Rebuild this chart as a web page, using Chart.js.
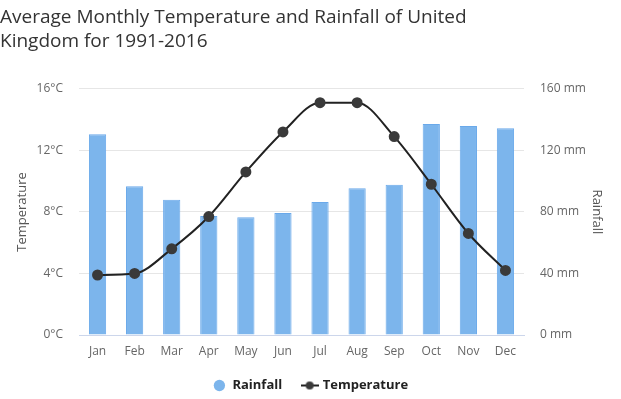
<!DOCTYPE html>
<html>
<head>
<meta charset="utf-8">
<script src="https://cdn.jsdelivr.net/npm/chart.js@4"></script>
<style>
  html, body { margin: 0; padding: 0; background: #fff; }
  #wrap { width: 621px; height: 399px; }
</style>
</head>
<body>
<div id="wrap"><canvas id="climateChart"></canvas></div>
<script>
// data
const months = ['Jan', 'Feb', 'Mar', 'Apr', 'May', 'Jun', 'Jul', 'Aug', 'Sep', 'Oct', 'Nov', 'Dec'];
const rainfall = [130.5, 96.7, 88.0, 77.4, 76.5, 79.3, 86.5, 95.4, 97.6, 137.2, 135.9, 134.4];
const temperature = [3.9, 4.0, 5.6, 7.7, 10.6, 13.2, 15.1, 15.1, 12.9, 9.8, 6.6, 4.2];
const tempTicks = [0, 4, 8, 12, 16];
const rainTicks = [0, 40, 80, 120, 160];

Chart.defaults.font.family = '"Open Sans", sans-serif';
Chart.defaults.color = '#666';

// legend marker: line with a dot
function lineDotMarker() {
    const c = document.createElement('canvas');
    c.width = 18; c.height = 10;
    const g = c.getContext('2d');
    g.strokeStyle = '#222';
    g.lineWidth = 2;
    g.beginPath(); g.moveTo(0, 5); g.lineTo(18, 5); g.stroke();
    g.fillStyle = '#3a3a3a';
    g.beginPath(); g.arc(9, 5, 4, 0, Math.PI * 2); g.fill();
    return c;
}
const tempMarker = lineDotMarker();

new Chart(document.getElementById('climateChart'), {
    data: {
        labels: months,
        datasets: [
            {
                type: 'line',
                label: 'Temperature',
                data: temperature,
                yAxisID: 'yTemp',
                borderColor: '#222',
                borderWidth: 2,
                pointRadius: 4.5,
                pointBackgroundColor: '#3a3a3a',
                pointBorderColor: '#3a3a3a',
                cubicInterpolationMode: 'monotone',
                order: 0
            },
            {
                type: 'bar',
                label: 'Rainfall',
                data: rainfall,
                yAxisID: 'yRain',
                backgroundColor: '#7cb5ec',
                borderColor: '#6aa9ea',
                borderWidth: 1,
                categoryPercentage: 0.8,
                barPercentage: 0.58,
                order: 1
            }
        ]
    },
    options: {
        responsive: true,
        maintainAspectRatio: false,
        animation: false,
        layout: { padding: { left: 0, right: 0, top: 6, bottom: -3 } },
        plugins: {
            title: {
                display: true,
                align: 'start',
                text: ['Average Monthly Temperature and Rainfall of United', 'Kingdom for 1991-2016'],
                color: '#333',
                font: { size: 19, weight: 'normal', lineHeight: 1.26 },
                padding: { top: 0, bottom: 35, left: 10 }
            },
            legend: {
                position: 'bottom',
                labels: {
                    usePointStyle: true,
                    boxHeight: 8,
                    color: '#222',
                    font: { size: 13, weight: 'bold' },
                    padding: 21,
                    generateLabels: function(chart) {
                        return [
                            { text: 'Rainfall', datasetIndex: 1, fillStyle: '#7cb5ec', strokeStyle: '#7cb5ec', lineWidth: 0, pointStyle: 'circle', fontColor: '#222' },
                            { text: 'Temperature', datasetIndex: 0, pointStyle: tempMarker, fontColor: '#222' }
                        ];
                    }
                }
            },
            tooltip: { enabled: false }
        },
        scales: {
            x: {
                grid: { display: false },
                border: { color: '#ccd6eb' },
                afterFit: function(s) { s.height = 23; },
                ticks: { font: { size: 12 }, padding: 1 }
            },
            yTemp: {
                position: 'left',
                min: 0,
                max: 16,
                afterBuildTicks: function(s) { s.ticks = tempTicks.map(v => ({ value: v })); },
                afterFit: function(s) { s.width = 79; },
                grid: { color: '#e6e6e6', drawTicks: false },
                border: { display: false },
                ticks: { padding: 16, font: { size: 12 }, callback: v => v + '°C' },
                title: { display: true, text: 'Temperature', font: { size: 13 }, color: '#555', padding: { top: 14, bottom: 0 } }
            },
            yRain: {
                position: 'right',
                min: 0,
                max: 160,
                afterBuildTicks: function(s) { s.ticks = rainTicks.map(v => ({ value: v })); },
                afterFit: function(s) { s.width = 97; },
                grid: { drawOnChartArea: false, drawTicks: false },
                border: { display: false },
                ticks: { padding: 16, font: { size: 12 }, callback: v => v + ' mm' },
                title: { display: true, text: 'Rainfall', font: { size: 13 }, color: '#555', padding: { top: 16, bottom: 0 } }
            }
        }
    }
});
</script>
</body>
</html>
